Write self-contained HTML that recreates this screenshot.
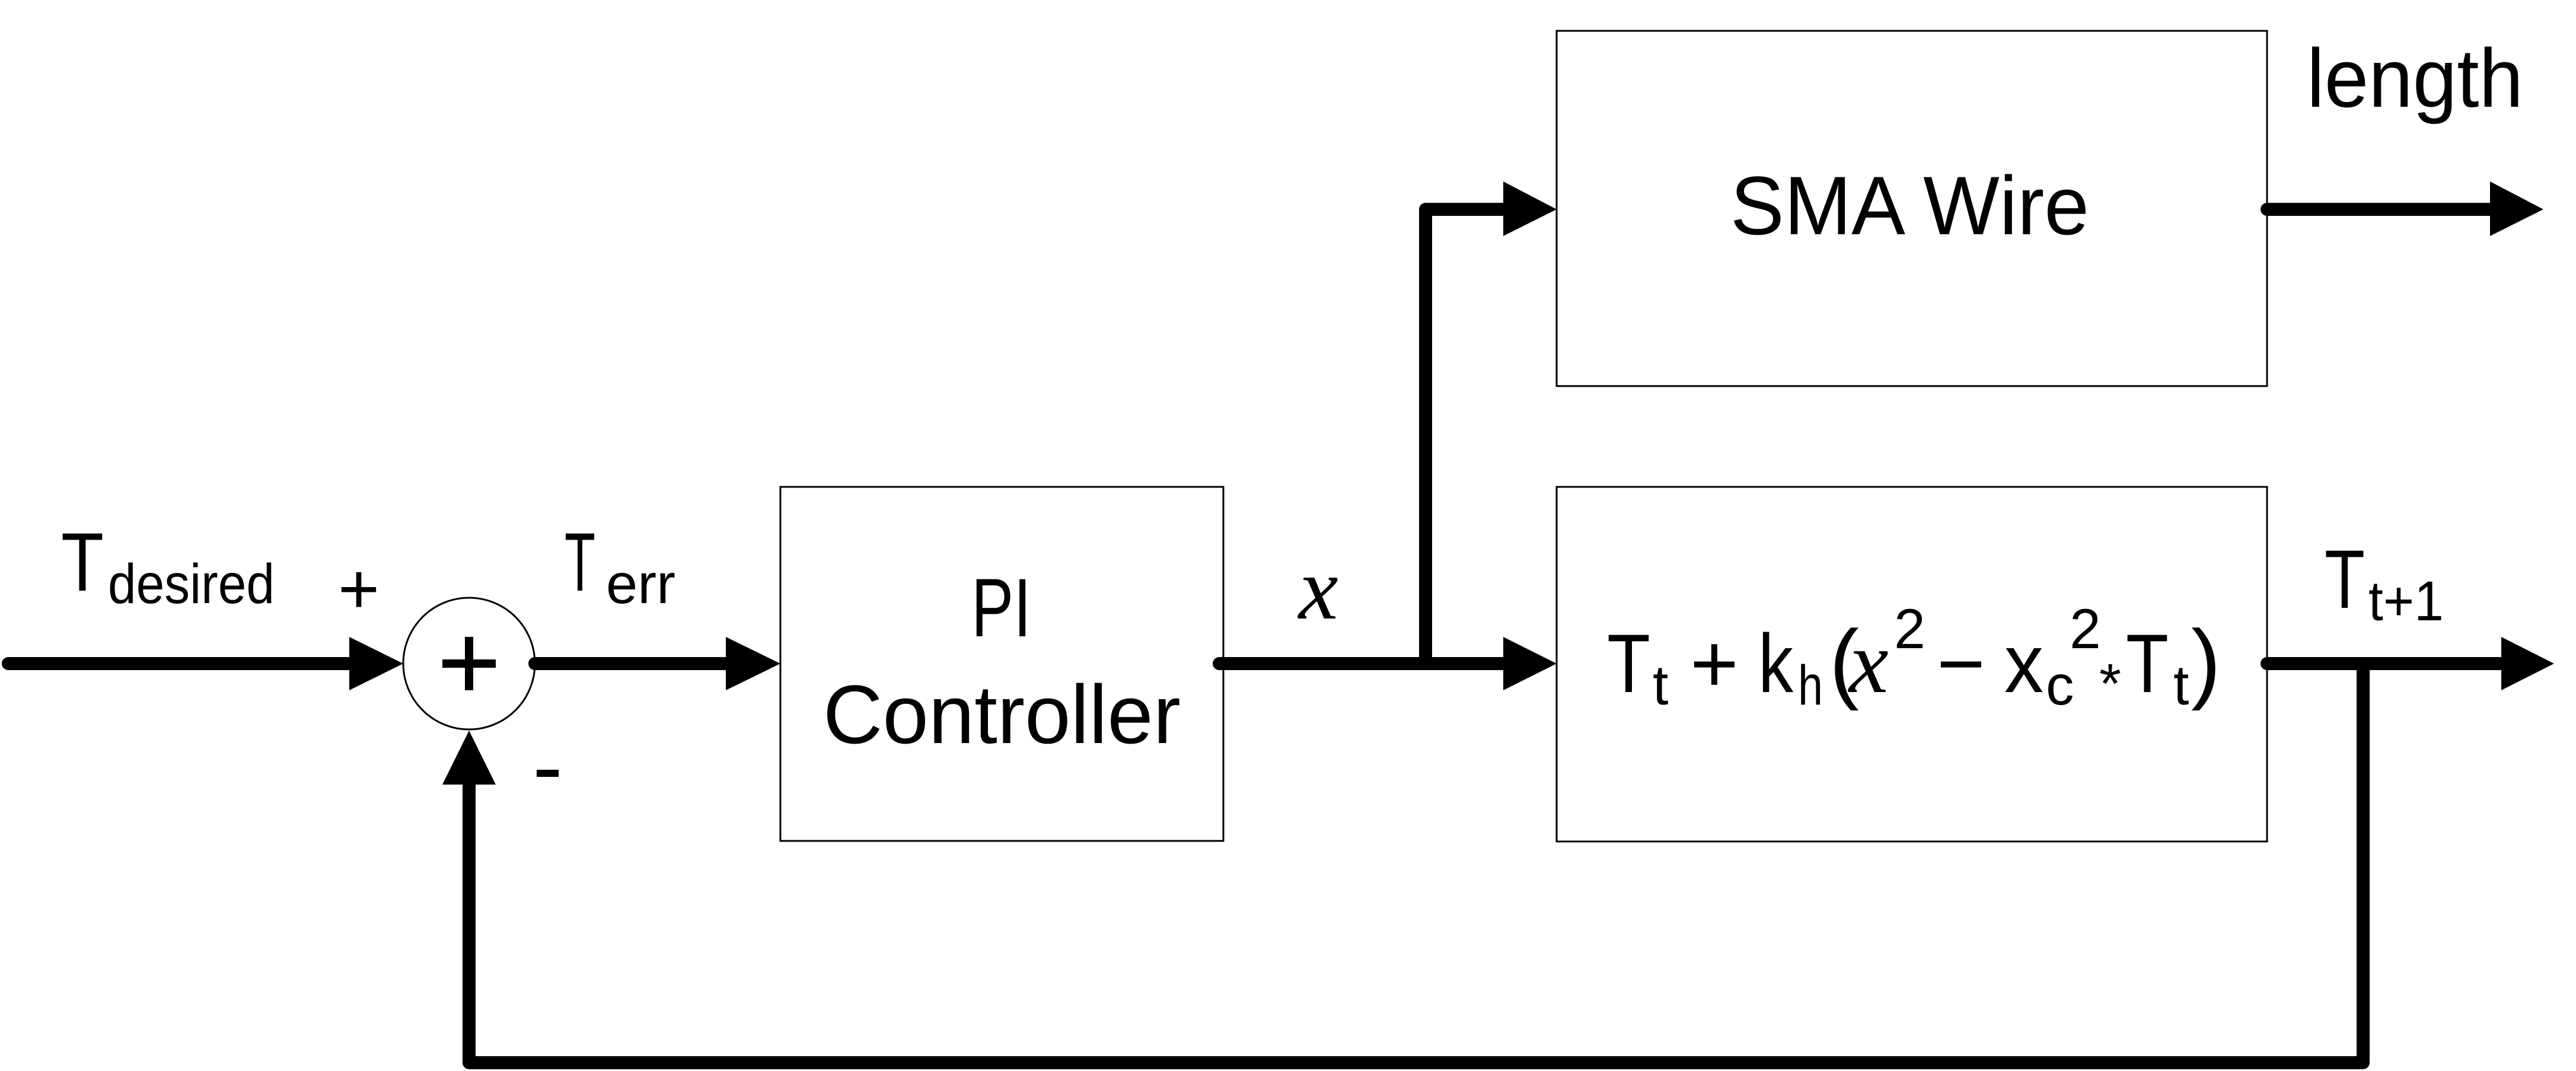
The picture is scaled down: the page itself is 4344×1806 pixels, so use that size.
<!DOCTYPE html>
<html><head><meta charset="utf-8"><style>html,body{margin:0;padding:0;background:#fff}svg{display:block}</style></head><body>
<svg width="4344" height="1806" viewBox="0 0 4344 1806" xmlns="http://www.w3.org/2000/svg" font-family="Liberation Sans, sans-serif" fill="#000">
<rect width="4344" height="1806" fill="#fff"/>
<g fill="#fff" stroke="#000" stroke-width="3">
<rect x="1316" y="821" width="747" height="597"/>
<rect x="2625" y="52" width="1198" height="599"/>
<rect x="2625" y="821" width="1198" height="598"/>
<circle cx="791" cy="1119" r="111"/>
</g>
<g stroke="#000" stroke-width="22" stroke-linecap="round" stroke-linejoin="round" fill="none">
<line x1="14" y1="1119" x2="600" y2="1119"/>
<line x1="902" y1="1119" x2="1230" y2="1119"/>
<line x1="2056" y1="1119" x2="2540" y2="1119"/>
<polyline points="2404,1119 2404,353 2540,353"/>
<line x1="3823" y1="353" x2="4205" y2="353"/>
<line x1="3823" y1="1119" x2="4225" y2="1119"/>
<polyline points="3985,1119 3985,1792 791,1792 791,1315"/>
</g>
<g>
<polygon points="589,1074 680,1119 589,1164"/>
<polygon points="1224,1074 1316,1119 1224,1164"/>
<polygon points="2535,1074 2625,1119 2535,1164"/>
<polygon points="2535,306 2625,353 2535,398"/>
<polygon points="4199,306 4289,353 4199,398"/>
<polygon points="4218,1074 4307,1119 4218,1164"/>
<polygon points="746,1323 791,1232 836,1323"/>
</g>
<rect x="784" y="1074" width="14" height="90"/>
<rect x="746" y="1112" width="90" height="14"/>
<g font-size="140">
<text x="103" y="996" textLength="72" lengthAdjust="spacingAndGlyphs">T</text>
<text x="182" y="1017" font-size="95" textLength="281" lengthAdjust="spacingAndGlyphs">desired</text>
<text x="570" y="1034" font-size="120">+</text>
<rect x="905" y="1298" width="37" height="12"/>
<text x="952" y="996" textLength="52" lengthAdjust="spacingAndGlyphs">T</text>
<text x="1022" y="1017" font-size="95" textLength="117" lengthAdjust="spacingAndGlyphs">err</text>
<text x="1638" y="1073" textLength="101" lengthAdjust="spacingAndGlyphs">PI</text>
<text x="1388" y="1253" textLength="603" lengthAdjust="spacingAndGlyphs">Controller</text>
<text x="2918" y="395" textLength="605" lengthAdjust="spacingAndGlyphs">SMA Wire</text>
<text x="3890" y="180" textLength="365" lengthAdjust="spacingAndGlyphs">length</text>
<text x="3920" y="1025" textLength="68" lengthAdjust="spacingAndGlyphs">T</text>
<text x="3994" y="1046" font-size="95" textLength="127" lengthAdjust="spacingAndGlyphs">t+1</text>
<text x="2190" y="1043" font-family="Liberation Serif, serif" font-style="italic" font-size="150">x</text>
<text x="2710" y="1167" textLength="73" lengthAdjust="spacingAndGlyphs">T</text>
<text x="2787" y="1188" font-size="95">t</text>
<text x="2850" y="1167">+</text>
<text x="2965" y="1167" textLength="59" lengthAdjust="spacingAndGlyphs">k</text>
<text x="3032" y="1188" font-size="95" textLength="42" lengthAdjust="spacingAndGlyphs">h</text>
<text x="3085" y="1167" font-size="150">(</text>
<text x="3118" y="1167" font-family="Liberation Serif, serif" font-style="italic" font-size="150">x</text>
<text x="3194" y="1093" font-size="95">2</text>
<text x="3266" y="1167">−</text>
<text x="3380" y="1167" textLength="66" lengthAdjust="spacingAndGlyphs">x</text>
<text x="3450" y="1188" font-size="95">c</text>
<text x="3490" y="1093" font-size="95">2</text>
<text x="3540" y="1185" font-size="95">*</text>
<text x="3585" y="1167" textLength="72" lengthAdjust="spacingAndGlyphs">T</text>
<text x="3665" y="1188" font-size="95">t</text>
<text x="3695" y="1167" font-size="150">)</text>
</g>
</svg>
</body></html>
